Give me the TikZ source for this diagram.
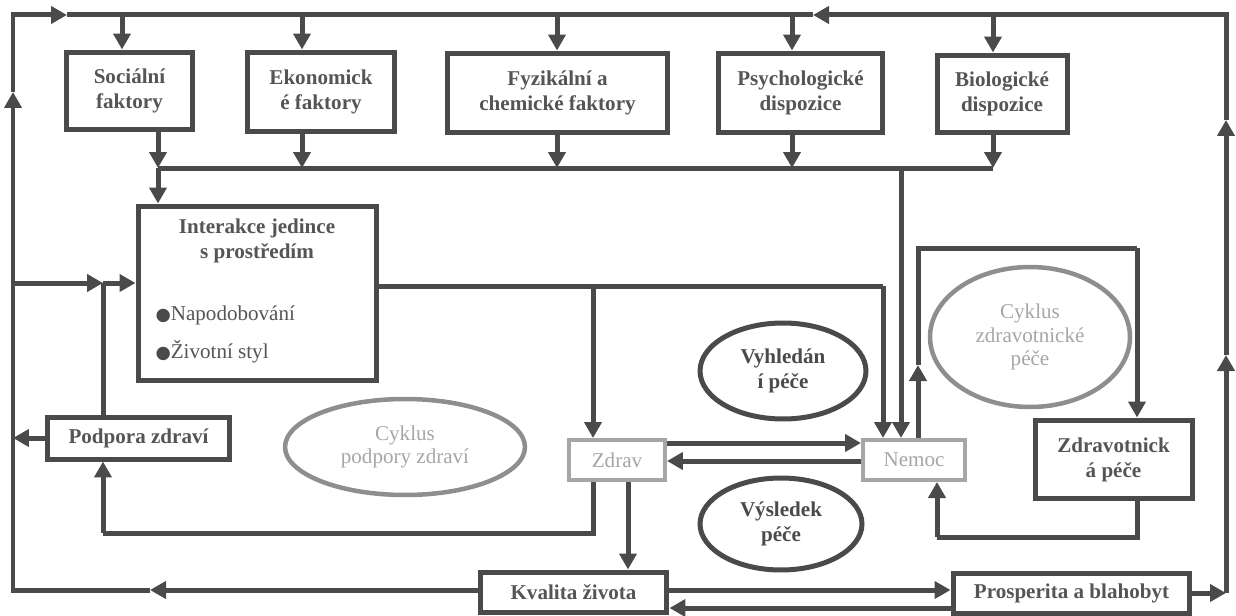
\documentclass[tikz,border=0pt]{standalone}
\usepackage{fontspec}
\setmainfont{Liberation Serif}
\newfontfamily\symf{DejaVu Sans}
\usetikzlibrary{arrows.meta,shapes.geometric}
\definecolor{linec}{HTML}{4A4A4A}
\definecolor{txtc}{HTML}{555555}
\definecolor{pale}{HTML}{A6A6A6}
\definecolor{ringc}{HTML}{8E8E8E}
\begin{document}
\begin{tikzpicture}[x=0.02cm,y=-0.02cm,color=linec,line width=0.1cm,
    box/.style={draw=linec,line width=0.1cm,fill=white,text=txtc,align=center,inner sep=0pt,
      font=\fontsize{12}{14.2}\selectfont\bfseries},
    pbox/.style={draw=pale,line width=0.08cm,fill=white,text=pale,inner sep=0pt,
      minimum height=0.8cm,font=\fontsize{12}{14.2}\selectfont},
    oval/.style={ellipse,draw=linec,line width=0.1cm,text=linec,align=center,inner sep=0pt,
      font=\fontsize{12}{14.2}\selectfont\bfseries},
    ring/.style={ellipse,draw=ringc,line width=0.09cm,text=pale,align=center,inner sep=0pt,
      font=\fontsize{12}{13.2}\selectfont},
    head/.style={text=txtc,align=center,font=\fontsize{12}{14.2}\selectfont\bfseries},
    item/.style={text=txtc,inner sep=0pt,font=\fontsize{12}{14.2}\selectfont},
    arr/.style={-{Triangle[length=0.32cm,width=0.34cm]}}]
\useasboundingbox (0,0) rectangle (1236,615);

        \node[box,minimum width=2.54cm,minimum height=1.56cm] (SOC) at (129.5,91) {Sociální\\faktory};
        \node[box,minimum width=2.96cm,minimum height=1.6cm] (EKO) at (321,92) {Ekonomick\\é faktory};
        \node[box,minimum width=4.42cm,minimum height=1.6cm] (FYZ) at (557.5,93) {Fyzikální a\\chemické faktory};
        \node[box,minimum width=3.3cm,minimum height=1.6cm] (PSY) at (800.5,93) {Psychologické\\dispozice};
        \node[box,minimum width=2.6cm,minimum height=1.56cm] (BIO) at (1002,94) {Biologické\\dispozice};

        \node[box,minimum width=4.78cm,minimum height=3.5cm] (INT) at (257.5,293.5) {};
        \node[head] (INTT) at (257,241) {Interakce jedince\\s prostředím};
        \node[item,anchor=west] (NAP) at (153,315) {{\symf\fontsize{10}{12}\selectfont\textcolor{linec}{●}}Napodobování};
        \node[item,anchor=west] (ZIV) at (153,352) {{\symf\fontsize{10}{12}\selectfont\textcolor{linec}{●}}Životní styl};

        \node[box,minimum width=3.66cm,minimum height=0.84cm] (POD) at (138.5,438) {Podpora zdraví};
        \node[pbox,minimum width=1.92cm] (ZDR) at (617,460) {Zdrav};
        \node[pbox,minimum width=2.04cm] (NEM) at (914,460) {Nemoc};
        \node[box,minimum width=3.14cm,minimum height=1.58cm] (ZPE) at (1113.5,459.5) {Zdravotnick\\á péče};
        \node[box,minimum width=3.74cm,minimum height=0.8cm] (KVA) at (573.5,592) {Kvalita života};
        \node[box,minimum width=4.74cm,minimum height=0.8cm] (PRO) at (1071.5,593) {Prosperita a blahobyt};

        \node[ring,minimum width=4.8cm,minimum height=1.92cm] (CPZ) at (405,447) {Cyklus\\podpory zdraví};
        \node[oval,minimum width=3.32cm,minimum height=1.92cm] (VYH) at (783,371) {Vyhledán\\í péče};
        \node[oval,minimum width=3.24cm,minimum height=1.84cm] (VYS) at (781,524) {Výsledek\\péče};
        \node[ring,minimum width=4.0cm,minimum height=2.8cm] (CZP) at (1030,337) {Cyklus\\zdravotnické\\péče};

        % corners and branch points
        \coordinate (TL) at (13,15);
        \coordinate (TR) at (1226,15);
        \coordinate (BL) at (13,590);
        \coordinate (BR) at (1226,593);
        \coordinate (TA) at (67,15);
        \coordinate (TB) at (813,15);
        \coordinate (LA) at (13,92);
        \coordinate (LB) at (150,590);
        \coordinate (RA) at (1226,355);
        \coordinate (RB) at (1226,120);
        \coordinate (T1) at (122,15);
        \coordinate (T2) at (302,15);
        \coordinate (T3) at (557,15);
        \coordinate (T4) at (792,15);
        \coordinate (T5) at (993,15);
        \coordinate (C1) at (158,168);
        \coordinate (C2) at (302,168);
        \coordinate (C3) at (557,168);
        \coordinate (C4) at (792,168);
        \coordinate (C5) at (993,168);
        \coordinate (CN) at (901,168);
        \coordinate (Q) at (103,283);
        \coordinate (R0) at (593,286);
        \coordinate (R1) at (883,286);
        \coordinate (H0) at (918,365);
        \coordinate (H1) at (918,248);
        \coordinate (H2) at (1137,248);
        \coordinate (H3) at (1137,537);
        \coordinate (H4) at (937,537);
        \coordinate (P1) at (593,533);
        \coordinate (P2) at (103,533);
        \coordinate (K1) at (628,533);
        \coordinate (ZN) at (0,443);
        \coordinate (NZ) at (0,461);
        \coordinate (U) at (0,590);
        \coordinate (D) at (0,608);

        % outer loop
        \draw[arr] (KVA.west |- BL) -- (LB);
        \draw[arr] (LB) -- (BL) -- (LA);
        \draw[arr] (LA) -- (TL) -- (TA);
        \draw (TA) -- (TB);
        \draw[arr] (PRO.east) -- (BR);
        \draw[arr] (BR) -- (RA);
        \draw[arr] (RA) -- (RB);
        \draw[arr] (RB) -- (TR) -- (TB);

        \draw[arr] (T1) -- (T1 |- SOC.north);
        \draw[arr] (T2) -- (T2 |- EKO.north);
        \draw[arr] (T3) -- (T3 |- FYZ.north);
        \draw[arr] (T4) -- (T4 |- PSY.north);
        \draw[arr] (T5) -- (T5 |- BIO.north);
        \draw[arr] (C1 |- SOC.south) -- (C1);
        \draw[arr] (C2 |- EKO.south) -- (C2);
        \draw[arr] (C3 |- FYZ.south) -- (C3);
        \draw[arr] (C4 |- PSY.south) -- (C4);
        \draw[arr] (C5 |- BIO.south) -- (C5);
        \draw (C1) -- (C5);
        \draw[arr] (C1) -- (C1 |- INT.north);
        \draw[arr] (CN) -- (CN |- NEM.north);

        \draw (INT.east |- R1) -- (R1);
        \draw[arr] (R1) -- (R1 |- NEM.north);
        \draw[arr] (R0) -- (R0 |- ZDR.north);

        \draw[arr] (TL |- Q) -- (Q);
        \draw (POD.north -| Q) -- (Q);
        \draw[arr] (Q) -- (Q -| INT.west);
        \draw[arr] (POD.west) -- (POD.west -| TL);

        \draw[arr] (ZDR.east |- ZN) -- (NEM.west |- ZN);
        \draw[arr] (NEM.west |- NZ) -- (ZDR.east |- NZ);
        \draw (ZDR.south -| P1) -- (P1) -- (P2);
        \draw[arr] (P2) -- (P2 |- POD.south);
        \draw[arr] (ZDR.south -| K1) -- (K1 |- KVA.north);

        \draw[arr] (NEM.north -| H0) -- (H0);
        \draw (H0) -- (H1) -- (H2);
        \draw[arr] (H2) -- (H2 |- ZPE.north);
        \draw (ZPE.south -| H3) -- (H3) -- (H4);
        \draw[arr] (H4) -- (H4 |- NEM.south);

        \draw[arr] (KVA.east |- U) -- (PRO.west |- U);
        \draw[arr] (PRO.west |- D) -- (KVA.east |- D);
\end{tikzpicture}
\end{document}
